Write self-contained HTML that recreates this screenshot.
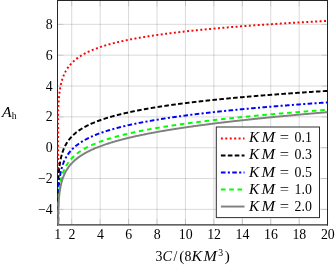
<!DOCTYPE html>
<html><head><meta charset="utf-8"><title>plot</title>
<style>html,body{margin:0;padding:0;background:#fff}svg{display:block}text{font-family:"Liberation Serif",serif;fill:#000}</style></head>
<body>
<svg width="335" height="266" viewBox="0 0 335 266">
<defs><filter id="nf" filterUnits="userSpaceOnUse" x="0" y="0" width="335" height="266"><feOffset dx="0" dy="0"/></filter></defs>
<rect width="335" height="266" fill="#fff"/>
<path d="M71.72 0.50 V225.00 M100.15 0.50 V225.00 M128.58 0.50 V225.00 M157.01 0.50 V225.00 M185.44 0.50 V225.00 M213.87 0.50 V225.00 M242.31 0.50 V225.00 M270.74 0.50 V225.00 M299.17 0.50 V225.00 M57.50 24.35 H327.60 M57.50 55.19 H327.60 M57.50 86.03 H327.60 M57.50 116.87 H327.60 M57.50 147.71 H327.60 M57.50 178.55 H327.60 M57.50 209.39 H327.60" stroke="#808080" stroke-width="0.3" fill="none"/>
<path d="M57.50 0.50 v5.90 M57.50 225.00 v-5.90 M71.72 0.50 v5.90 M71.72 225.00 v-5.90 M100.15 0.50 v5.90 M100.15 225.00 v-5.90 M128.58 0.50 v5.90 M128.58 225.00 v-5.90 M157.01 0.50 v5.90 M157.01 225.00 v-5.90 M185.44 0.50 v5.90 M185.44 225.00 v-5.90 M213.87 0.50 v5.90 M213.87 225.00 v-5.90 M242.31 0.50 v5.90 M242.31 225.00 v-5.90 M270.74 0.50 v5.90 M270.74 225.00 v-5.90 M299.17 0.50 v5.90 M299.17 225.00 v-5.90 M327.60 0.50 v5.90 M327.60 225.00 v-5.90 M57.50 24.35 h5.90 M327.60 24.35 h-5.90 M57.50 55.19 h5.90 M327.60 55.19 h-5.90 M57.50 86.03 h5.90 M327.60 86.03 h-5.90 M57.50 116.87 h5.90 M327.60 116.87 h-5.90 M57.50 147.71 h5.90 M327.60 147.71 h-5.90 M57.50 178.55 h5.90 M327.60 178.55 h-5.90 M57.50 209.39 h5.90 M327.60 209.39 h-5.90" stroke="#808080" stroke-width="0.3" fill="none"/>
<path d="M57.5 0 V225.6 M327.5 0 V225.6 M57 0.5 H328" stroke="#262626" stroke-width="1" fill="none"/>
<path d="M57 224.92 H328" stroke="#303030" stroke-width="1.35" fill="none"/>
<clipPath id="c"><rect x="57.20" y="0.50" width="270.40" height="224.50"/></clipPath>
<clipPath id="cr"><rect x="57.2" y="0.5" width="271" height="168.5"/></clipPath>
<g clip-path="url(#c)" fill="none" stroke-width="1.95" stroke-linejoin="round">
<path d="M57.50 764.51 L58.18 109.14 L58.85 98.51 L59.53 92.32 L60.21 87.94 L60.88 84.55 L61.56 81.80 L62.24 79.47 L62.92 77.46 L63.59 75.69 L64.27 74.11 L64.95 72.68 L65.62 71.39 L66.30 70.19 L66.98 69.09 L67.65 68.07 L68.33 67.11 L69.01 66.21 L69.68 65.37 L70.36 64.57 L71.04 63.81 L71.72 63.09 L72.39 62.41 L73.07 61.75 L73.75 61.13 L74.42 60.53 L75.10 59.95 L75.78 59.40 L76.45 58.87 L77.13 58.36 L77.81 57.86 L78.49 57.38 L79.16 56.92 L79.84 56.47 L80.52 56.04 L81.19 55.61 L81.87 55.20 L82.55 54.81 L83.22 54.42 L83.90 54.04 L84.58 53.67 L85.25 53.31 L85.93 52.97 L86.61 52.62 L87.29 52.29 L87.96 51.97 L88.64 51.65 L89.32 51.34 L89.99 51.03 L90.67 50.73 L91.35 50.44 L92.02 50.16 L92.70 49.88 L93.38 49.60 L94.05 49.33 L94.73 49.07 L95.41 48.81 L96.09 48.55 L96.76 48.30 L97.44 48.06 L98.12 47.81 L98.79 47.58 L99.47 47.34 L100.15 47.11 L100.82 46.89 L101.50 46.66 L102.18 46.44 L102.86 46.23 L103.53 46.01 L104.21 45.81 L104.89 45.60 L105.56 45.40 L106.24 45.19 L106.92 45.00 L107.59 44.80 L108.27 44.61 L108.95 44.42 L109.62 44.23 L110.30 44.05 L110.98 43.86 L111.66 43.68 L112.33 43.51 L113.01 43.33 L113.69 43.16 L114.36 42.99 L115.04 42.82 L115.72 42.65 L116.39 42.48 L117.07 42.32 L117.75 42.16 L118.42 42.00 L119.10 41.84 L119.78 41.69 L120.46 41.53 L121.13 41.38 L121.81 41.23 L122.49 41.08 L123.16 40.93 L123.84 40.78 L124.52 40.64 L125.19 40.49 L125.87 40.35 L126.55 40.21 L127.23 40.07 L127.90 39.93 L128.58 39.80 L129.26 39.66 L129.93 39.53 L130.61 39.40 L131.29 39.26 L131.96 39.13 L132.64 39.01 L133.32 38.88 L133.99 38.75 L134.67 38.63 L135.35 38.50 L136.03 38.38 L136.70 38.26 L137.38 38.13 L138.06 38.01 L138.73 37.90 L139.41 37.78 L140.09 37.66 L140.76 37.54 L141.44 37.43 L142.12 37.31 L142.79 37.20 L143.47 37.09 L144.15 36.98 L144.83 36.87 L145.50 36.76 L146.18 36.65 L146.86 36.54 L147.53 36.43 L148.21 36.32 L148.89 36.22 L149.56 36.11 L150.24 36.01 L150.92 35.91 L151.59 35.80 L152.27 35.70 L152.95 35.60 L153.63 35.50 L154.30 35.40 L154.98 35.30 L155.66 35.20 L156.33 35.11 L157.01 35.01 L157.69 34.91 L158.36 34.82 L159.04 34.72 L159.72 34.63 L160.40 34.53 L161.07 34.44 L161.75 34.35 L162.43 34.26 L163.10 34.17 L163.78 34.07 L164.46 33.98 L165.13 33.89 L165.81 33.81 L166.49 33.72 L167.16 33.63 L167.84 33.54 L168.52 33.46 L169.20 33.37 L169.87 33.28 L170.55 33.20 L171.23 33.11 L171.90 33.03 L172.58 32.95 L173.26 32.86 L173.93 32.78 L174.61 32.70 L175.29 32.62 L175.96 32.53 L176.64 32.45 L177.32 32.37 L178.00 32.29 L178.67 32.21 L179.35 32.13 L180.03 32.06 L180.70 31.98 L181.38 31.90 L182.06 31.82 L182.73 31.75 L183.41 31.67 L184.09 31.59 L184.77 31.52 L185.44 31.44 L186.12 31.37 L186.80 31.29 L187.47 31.22 L188.15 31.15 L188.83 31.07 L189.50 31.00 L190.18 30.93 L190.86 30.86 L191.53 30.78 L192.21 30.71 L192.89 30.64 L193.57 30.57 L194.24 30.50 L194.92 30.43 L195.60 30.36 L196.27 30.29 L196.95 30.22 L197.63 30.15 L198.30 30.09 L198.98 30.02 L199.66 29.95 L200.33 29.88 L201.01 29.82 L201.69 29.75 L202.37 29.68 L203.04 29.62 L203.72 29.55 L204.40 29.49 L205.07 29.42 L205.75 29.36 L206.43 29.29 L207.10 29.23 L207.78 29.16 L208.46 29.10 L209.14 29.04 L209.81 28.97 L210.49 28.91 L211.17 28.85 L211.84 28.79 L212.52 28.73 L213.20 28.66 L213.87 28.60 L214.55 28.54 L215.23 28.48 L215.90 28.42 L216.58 28.36 L217.26 28.30 L217.94 28.24 L218.61 28.18 L219.29 28.12 L219.97 28.06 L220.64 28.00 L221.32 27.94 L222.00 27.89 L222.67 27.83 L223.35 27.77 L224.03 27.71 L224.70 27.65 L225.38 27.60 L226.06 27.54 L226.74 27.48 L227.41 27.43 L228.09 27.37 L228.77 27.32 L229.44 27.26 L230.12 27.20 L230.80 27.15 L231.47 27.09 L232.15 27.04 L232.83 26.98 L233.51 26.93 L234.18 26.88 L234.86 26.82 L235.54 26.77 L236.21 26.71 L236.89 26.66 L237.57 26.61 L238.24 26.55 L238.92 26.50 L239.60 26.45 L240.27 26.40 L240.95 26.34 L241.63 26.29 L242.31 26.24 L242.98 26.19 L243.66 26.14 L244.34 26.09 L245.01 26.03 L245.69 25.98 L246.37 25.93 L247.04 25.88 L247.72 25.83 L248.40 25.78 L249.07 25.73 L249.75 25.68 L250.43 25.63 L251.11 25.58 L251.78 25.53 L252.46 25.48 L253.14 25.44 L253.81 25.39 L254.49 25.34 L255.17 25.29 L255.84 25.24 L256.52 25.19 L257.20 25.15 L257.87 25.10 L258.55 25.05 L259.23 25.00 L259.91 24.95 L260.58 24.91 L261.26 24.86 L261.94 24.81 L262.61 24.77 L263.29 24.72 L263.97 24.67 L264.64 24.63 L265.32 24.58 L266.00 24.54 L266.68 24.49 L267.35 24.44 L268.03 24.40 L268.71 24.35 L269.38 24.31 L270.06 24.26 L270.74 24.22 L271.41 24.17 L272.09 24.13 L272.77 24.08 L273.44 24.04 L274.12 24.00 L274.80 23.95 L275.48 23.91 L276.15 23.86 L276.83 23.82 L277.51 23.78 L278.18 23.73 L278.86 23.69 L279.54 23.65 L280.21 23.60 L280.89 23.56 L281.57 23.52 L282.24 23.48 L282.92 23.43 L283.60 23.39 L284.28 23.35 L284.95 23.31 L285.63 23.27 L286.31 23.22 L286.98 23.18 L287.66 23.14 L288.34 23.10 L289.01 23.06 L289.69 23.02 L290.37 22.98 L291.05 22.93 L291.72 22.89 L292.40 22.85 L293.08 22.81 L293.75 22.77 L294.43 22.73 L295.11 22.69 L295.78 22.65 L296.46 22.61 L297.14 22.57 L297.81 22.53 L298.49 22.49 L299.17 22.45 L299.85 22.41 L300.52 22.37 L301.20 22.33 L301.88 22.29 L302.55 22.26 L303.23 22.22 L303.91 22.18 L304.58 22.14 L305.26 22.10 L305.94 22.06 L306.61 22.02 L307.29 21.99 L307.97 21.95 L308.65 21.91 L309.32 21.87 L310.00 21.83 L310.68 21.80 L311.35 21.76 L312.03 21.72 L312.71 21.68 L313.38 21.65 L314.06 21.61 L314.74 21.57 L315.42 21.53 L316.09 21.50 L316.77 21.46 L317.45 21.42 L318.12 21.39 L318.80 21.35 L319.48 21.31 L320.15 21.28 L320.83 21.24 L321.51 21.20 L322.18 21.17 L322.86 21.13 L323.54 21.10 L324.22 21.06 L324.89 21.03 L325.57 20.99 L326.25 20.95 L326.92 20.92 L327.60 20.88" stroke="#ff0000" stroke-dasharray="1.95 2.48" stroke-dashoffset="2.46" clip-path="url(#cr)"/>
<path d="M57.50 764.51 L58.18 182.77 L58.85 172.13 L59.53 165.93 L60.21 161.54 L60.88 158.15 L61.56 155.39 L62.24 153.05 L62.92 151.04 L63.59 149.26 L64.27 147.68 L64.95 146.25 L65.62 144.94 L66.30 143.74 L66.98 142.64 L67.65 141.61 L68.33 140.64 L69.01 139.74 L69.68 138.89 L70.36 138.09 L71.04 137.32 L71.72 136.60 L72.39 135.91 L73.07 135.25 L73.75 134.62 L74.42 134.01 L75.10 133.43 L75.78 132.87 L76.45 132.33 L77.13 131.81 L77.81 131.30 L78.49 130.82 L79.16 130.35 L79.84 129.89 L80.52 129.45 L81.19 129.02 L81.87 128.60 L82.55 128.19 L83.22 127.79 L83.90 127.41 L84.58 127.03 L85.25 126.66 L85.93 126.30 L86.61 125.95 L87.29 125.61 L87.96 125.27 L88.64 124.94 L89.32 124.62 L89.99 124.31 L90.67 124.00 L91.35 123.70 L92.02 123.40 L92.70 123.11 L93.38 122.82 L94.05 122.54 L94.73 122.27 L95.41 122.00 L96.09 121.73 L96.76 121.47 L97.44 121.21 L98.12 120.96 L98.79 120.71 L99.47 120.46 L100.15 120.22 L100.82 119.98 L101.50 119.75 L102.18 119.51 L102.86 119.29 L103.53 119.06 L104.21 118.84 L104.89 118.62 L105.56 118.40 L106.24 118.19 L106.92 117.98 L107.59 117.77 L108.27 117.57 L108.95 117.37 L109.62 117.17 L110.30 116.97 L110.98 116.78 L111.66 116.58 L112.33 116.39 L113.01 116.20 L113.69 116.02 L114.36 115.83 L115.04 115.65 L115.72 115.47 L116.39 115.30 L117.07 115.12 L117.75 114.95 L118.42 114.77 L119.10 114.60 L119.78 114.43 L120.46 114.27 L121.13 114.10 L121.81 113.94 L122.49 113.78 L123.16 113.62 L123.84 113.46 L124.52 113.30 L125.19 113.14 L125.87 112.99 L126.55 112.84 L127.23 112.69 L127.90 112.54 L128.58 112.39 L129.26 112.24 L129.93 112.09 L130.61 111.95 L131.29 111.81 L131.96 111.66 L132.64 111.52 L133.32 111.38 L133.99 111.24 L134.67 111.11 L135.35 110.97 L136.03 110.83 L136.70 110.70 L137.38 110.57 L138.06 110.43 L138.73 110.30 L139.41 110.17 L140.09 110.04 L140.76 109.92 L141.44 109.79 L142.12 109.66 L142.79 109.54 L143.47 109.41 L144.15 109.29 L144.83 109.17 L145.50 109.05 L146.18 108.93 L146.86 108.81 L147.53 108.69 L148.21 108.57 L148.89 108.45 L149.56 108.34 L150.24 108.22 L150.92 108.11 L151.59 107.99 L152.27 107.88 L152.95 107.77 L153.63 107.66 L154.30 107.54 L154.98 107.43 L155.66 107.33 L156.33 107.22 L157.01 107.11 L157.69 107.00 L158.36 106.89 L159.04 106.79 L159.72 106.68 L160.40 106.58 L161.07 106.47 L161.75 106.37 L162.43 106.27 L163.10 106.17 L163.78 106.07 L164.46 105.96 L165.13 105.86 L165.81 105.76 L166.49 105.67 L167.16 105.57 L167.84 105.47 L168.52 105.37 L169.20 105.28 L169.87 105.18 L170.55 105.08 L171.23 104.99 L171.90 104.89 L172.58 104.80 L173.26 104.71 L173.93 104.61 L174.61 104.52 L175.29 104.43 L175.96 104.34 L176.64 104.25 L177.32 104.16 L178.00 104.07 L178.67 103.98 L179.35 103.89 L180.03 103.80 L180.70 103.71 L181.38 103.62 L182.06 103.54 L182.73 103.45 L183.41 103.36 L184.09 103.28 L184.77 103.19 L185.44 103.11 L186.12 103.02 L186.80 102.94 L187.47 102.85 L188.15 102.77 L188.83 102.69 L189.50 102.61 L190.18 102.52 L190.86 102.44 L191.53 102.36 L192.21 102.28 L192.89 102.20 L193.57 102.12 L194.24 102.04 L194.92 101.96 L195.60 101.88 L196.27 101.80 L196.95 101.72 L197.63 101.65 L198.30 101.57 L198.98 101.49 L199.66 101.42 L200.33 101.34 L201.01 101.26 L201.69 101.19 L202.37 101.11 L203.04 101.04 L203.72 100.96 L204.40 100.89 L205.07 100.81 L205.75 100.74 L206.43 100.67 L207.10 100.59 L207.78 100.52 L208.46 100.45 L209.14 100.37 L209.81 100.30 L210.49 100.23 L211.17 100.16 L211.84 100.09 L212.52 100.02 L213.20 99.95 L213.87 99.88 L214.55 99.81 L215.23 99.74 L215.90 99.67 L216.58 99.60 L217.26 99.53 L217.94 99.46 L218.61 99.39 L219.29 99.33 L219.97 99.26 L220.64 99.19 L221.32 99.12 L222.00 99.06 L222.67 98.99 L223.35 98.92 L224.03 98.86 L224.70 98.79 L225.38 98.73 L226.06 98.66 L226.74 98.60 L227.41 98.53 L228.09 98.47 L228.77 98.40 L229.44 98.34 L230.12 98.27 L230.80 98.21 L231.47 98.15 L232.15 98.08 L232.83 98.02 L233.51 97.96 L234.18 97.90 L234.86 97.83 L235.54 97.77 L236.21 97.71 L236.89 97.65 L237.57 97.59 L238.24 97.53 L238.92 97.47 L239.60 97.40 L240.27 97.34 L240.95 97.28 L241.63 97.22 L242.31 97.16 L242.98 97.10 L243.66 97.04 L244.34 96.99 L245.01 96.93 L245.69 96.87 L246.37 96.81 L247.04 96.75 L247.72 96.69 L248.40 96.63 L249.07 96.58 L249.75 96.52 L250.43 96.46 L251.11 96.40 L251.78 96.35 L252.46 96.29 L253.14 96.23 L253.81 96.18 L254.49 96.12 L255.17 96.06 L255.84 96.01 L256.52 95.95 L257.20 95.90 L257.87 95.84 L258.55 95.79 L259.23 95.73 L259.91 95.68 L260.58 95.62 L261.26 95.57 L261.94 95.51 L262.61 95.46 L263.29 95.40 L263.97 95.35 L264.64 95.30 L265.32 95.24 L266.00 95.19 L266.68 95.13 L267.35 95.08 L268.03 95.03 L268.71 94.98 L269.38 94.92 L270.06 94.87 L270.74 94.82 L271.41 94.77 L272.09 94.71 L272.77 94.66 L273.44 94.61 L274.12 94.56 L274.80 94.51 L275.48 94.46 L276.15 94.41 L276.83 94.35 L277.51 94.30 L278.18 94.25 L278.86 94.20 L279.54 94.15 L280.21 94.10 L280.89 94.05 L281.57 94.00 L282.24 93.95 L282.92 93.90 L283.60 93.85 L284.28 93.80 L284.95 93.75 L285.63 93.70 L286.31 93.66 L286.98 93.61 L287.66 93.56 L288.34 93.51 L289.01 93.46 L289.69 93.41 L290.37 93.36 L291.05 93.32 L291.72 93.27 L292.40 93.22 L293.08 93.17 L293.75 93.13 L294.43 93.08 L295.11 93.03 L295.78 92.98 L296.46 92.94 L297.14 92.89 L297.81 92.84 L298.49 92.80 L299.17 92.75 L299.85 92.70 L300.52 92.66 L301.20 92.61 L301.88 92.56 L302.55 92.52 L303.23 92.47 L303.91 92.43 L304.58 92.38 L305.26 92.34 L305.94 92.29 L306.61 92.25 L307.29 92.20 L307.97 92.16 L308.65 92.11 L309.32 92.07 L310.00 92.02 L310.68 91.98 L311.35 91.93 L312.03 91.89 L312.71 91.84 L313.38 91.80 L314.06 91.76 L314.74 91.71 L315.42 91.67 L316.09 91.62 L316.77 91.58 L317.45 91.54 L318.12 91.49 L318.80 91.45 L319.48 91.41 L320.15 91.36 L320.83 91.32 L321.51 91.28 L322.18 91.23 L322.86 91.19 L323.54 91.15 L324.22 91.11 L324.89 91.06 L325.57 91.02 L326.25 90.98 L326.92 90.94 L327.60 90.90" stroke="#000000" stroke-dasharray="4.60 2.32" stroke-dashoffset="3.56"/>
<path d="M57.50 764.51 L58.18 196.01 L58.85 185.37 L59.53 179.16 L60.21 174.77 L60.88 171.38 L61.56 168.61 L62.24 166.27 L62.92 164.25 L63.59 162.47 L64.27 160.88 L64.95 159.44 L65.62 158.14 L66.30 156.93 L66.98 155.82 L67.65 154.79 L68.33 153.82 L69.01 152.91 L69.68 152.06 L70.36 151.25 L71.04 150.48 L71.72 149.75 L72.39 149.06 L73.07 148.39 L73.75 147.76 L74.42 147.15 L75.10 146.56 L75.78 145.99 L76.45 145.45 L77.13 144.93 L77.81 144.42 L78.49 143.93 L79.16 143.45 L79.84 142.99 L80.52 142.54 L81.19 142.11 L81.87 141.68 L82.55 141.27 L83.22 140.87 L83.90 140.48 L84.58 140.10 L85.25 139.73 L85.93 139.36 L86.61 139.01 L87.29 138.66 L87.96 138.32 L88.64 137.99 L89.32 137.66 L89.99 137.34 L90.67 137.03 L91.35 136.72 L92.02 136.42 L92.70 136.13 L93.38 135.84 L94.05 135.55 L94.73 135.27 L95.41 134.99 L96.09 134.72 L96.76 134.46 L97.44 134.20 L98.12 133.94 L98.79 133.68 L99.47 133.43 L100.15 133.19 L100.82 132.94 L101.50 132.70 L102.18 132.47 L102.86 132.24 L103.53 132.01 L104.21 131.78 L104.89 131.56 L105.56 131.34 L106.24 131.12 L106.92 130.91 L107.59 130.69 L108.27 130.48 L108.95 130.28 L109.62 130.07 L110.30 129.87 L110.98 129.67 L111.66 129.48 L112.33 129.28 L113.01 129.09 L113.69 128.90 L114.36 128.71 L115.04 128.52 L115.72 128.34 L116.39 128.16 L117.07 127.98 L117.75 127.80 L118.42 127.62 L119.10 127.45 L119.78 127.27 L120.46 127.10 L121.13 126.93 L121.81 126.77 L122.49 126.60 L123.16 126.43 L123.84 126.27 L124.52 126.11 L125.19 125.95 L125.87 125.79 L126.55 125.63 L127.23 125.48 L127.90 125.32 L128.58 125.17 L129.26 125.02 L129.93 124.87 L130.61 124.72 L131.29 124.57 L131.96 124.42 L132.64 124.28 L133.32 124.13 L133.99 123.99 L134.67 123.85 L135.35 123.71 L136.03 123.57 L136.70 123.43 L137.38 123.29 L138.06 123.16 L138.73 123.02 L139.41 122.89 L140.09 122.75 L140.76 122.62 L141.44 122.49 L142.12 122.36 L142.79 122.23 L143.47 122.10 L144.15 121.97 L144.83 121.85 L145.50 121.72 L146.18 121.60 L146.86 121.47 L147.53 121.35 L148.21 121.23 L148.89 121.10 L149.56 120.98 L150.24 120.86 L150.92 120.74 L151.59 120.63 L152.27 120.51 L152.95 120.39 L153.63 120.28 L154.30 120.16 L154.98 120.05 L155.66 119.93 L156.33 119.82 L157.01 119.71 L157.69 119.59 L158.36 119.48 L159.04 119.37 L159.72 119.26 L160.40 119.15 L161.07 119.05 L161.75 118.94 L162.43 118.83 L163.10 118.73 L163.78 118.62 L164.46 118.51 L165.13 118.41 L165.81 118.31 L166.49 118.20 L167.16 118.10 L167.84 118.00 L168.52 117.90 L169.20 117.79 L169.87 117.69 L170.55 117.59 L171.23 117.49 L171.90 117.40 L172.58 117.30 L173.26 117.20 L173.93 117.10 L174.61 117.00 L175.29 116.91 L175.96 116.81 L176.64 116.72 L177.32 116.62 L178.00 116.53 L178.67 116.43 L179.35 116.34 L180.03 116.25 L180.70 116.16 L181.38 116.06 L182.06 115.97 L182.73 115.88 L183.41 115.79 L184.09 115.70 L184.77 115.61 L185.44 115.52 L186.12 115.43 L186.80 115.34 L187.47 115.25 L188.15 115.17 L188.83 115.08 L189.50 114.99 L190.18 114.91 L190.86 114.82 L191.53 114.73 L192.21 114.65 L192.89 114.56 L193.57 114.48 L194.24 114.40 L194.92 114.31 L195.60 114.23 L196.27 114.15 L196.95 114.06 L197.63 113.98 L198.30 113.90 L198.98 113.82 L199.66 113.74 L200.33 113.66 L201.01 113.57 L201.69 113.49 L202.37 113.41 L203.04 113.34 L203.72 113.26 L204.40 113.18 L205.07 113.10 L205.75 113.02 L206.43 112.94 L207.10 112.86 L207.78 112.79 L208.46 112.71 L209.14 112.63 L209.81 112.56 L210.49 112.48 L211.17 112.41 L211.84 112.33 L212.52 112.26 L213.20 112.18 L213.87 112.11 L214.55 112.03 L215.23 111.96 L215.90 111.88 L216.58 111.81 L217.26 111.74 L217.94 111.66 L218.61 111.59 L219.29 111.52 L219.97 111.45 L220.64 111.38 L221.32 111.30 L222.00 111.23 L222.67 111.16 L223.35 111.09 L224.03 111.02 L224.70 110.95 L225.38 110.88 L226.06 110.81 L226.74 110.74 L227.41 110.67 L228.09 110.60 L228.77 110.53 L229.44 110.47 L230.12 110.40 L230.80 110.33 L231.47 110.26 L232.15 110.19 L232.83 110.13 L233.51 110.06 L234.18 109.99 L234.86 109.93 L235.54 109.86 L236.21 109.79 L236.89 109.73 L237.57 109.66 L238.24 109.60 L238.92 109.53 L239.60 109.47 L240.27 109.40 L240.95 109.34 L241.63 109.27 L242.31 109.21 L242.98 109.14 L243.66 109.08 L244.34 109.02 L245.01 108.95 L245.69 108.89 L246.37 108.83 L247.04 108.76 L247.72 108.70 L248.40 108.64 L249.07 108.57 L249.75 108.51 L250.43 108.45 L251.11 108.39 L251.78 108.33 L252.46 108.27 L253.14 108.21 L253.81 108.14 L254.49 108.08 L255.17 108.02 L255.84 107.96 L256.52 107.90 L257.20 107.84 L257.87 107.78 L258.55 107.72 L259.23 107.66 L259.91 107.60 L260.58 107.54 L261.26 107.49 L261.94 107.43 L262.61 107.37 L263.29 107.31 L263.97 107.25 L264.64 107.19 L265.32 107.13 L266.00 107.08 L266.68 107.02 L267.35 106.96 L268.03 106.90 L268.71 106.85 L269.38 106.79 L270.06 106.73 L270.74 106.68 L271.41 106.62 L272.09 106.56 L272.77 106.51 L273.44 106.45 L274.12 106.40 L274.80 106.34 L275.48 106.28 L276.15 106.23 L276.83 106.17 L277.51 106.12 L278.18 106.06 L278.86 106.01 L279.54 105.95 L280.21 105.90 L280.89 105.84 L281.57 105.79 L282.24 105.73 L282.92 105.68 L283.60 105.63 L284.28 105.57 L284.95 105.52 L285.63 105.47 L286.31 105.41 L286.98 105.36 L287.66 105.31 L288.34 105.25 L289.01 105.20 L289.69 105.15 L290.37 105.09 L291.05 105.04 L291.72 104.99 L292.40 104.94 L293.08 104.89 L293.75 104.83 L294.43 104.78 L295.11 104.73 L295.78 104.68 L296.46 104.63 L297.14 104.58 L297.81 104.52 L298.49 104.47 L299.17 104.42 L299.85 104.37 L300.52 104.32 L301.20 104.27 L301.88 104.22 L302.55 104.17 L303.23 104.12 L303.91 104.07 L304.58 104.02 L305.26 103.97 L305.94 103.92 L306.61 103.87 L307.29 103.82 L307.97 103.77 L308.65 103.72 L309.32 103.67 L310.00 103.62 L310.68 103.57 L311.35 103.53 L312.03 103.48 L312.71 103.43 L313.38 103.38 L314.06 103.33 L314.74 103.28 L315.42 103.23 L316.09 103.19 L316.77 103.14 L317.45 103.09 L318.12 103.04 L318.80 102.99 L319.48 102.95 L320.15 102.90 L320.83 102.85 L321.51 102.81 L322.18 102.76 L322.86 102.71 L323.54 102.66 L324.22 102.62 L324.89 102.57 L325.57 102.52 L326.25 102.48 L326.92 102.43 L327.60 102.38" stroke="#0000ff" stroke-dasharray="4.60 2.32 2.10 2.32" stroke-dashoffset="0.85"/>
<path d="M57.50 764.51 L58.18 204.73 L58.85 194.08 L59.53 187.87 L60.21 183.48 L60.88 180.08 L61.56 177.31 L62.24 174.97 L62.92 172.94 L63.59 171.16 L64.27 169.57 L64.95 168.13 L65.62 166.82 L66.30 165.61 L66.98 164.50 L67.65 163.46 L68.33 162.49 L69.01 161.58 L69.68 160.72 L70.36 159.91 L71.04 159.13 L71.72 158.40 L72.39 157.70 L73.07 157.04 L73.75 156.40 L74.42 155.78 L75.10 155.19 L75.78 154.63 L76.45 154.08 L77.13 153.55 L77.81 153.04 L78.49 152.54 L79.16 152.07 L79.84 151.60 L80.52 151.15 L81.19 150.71 L81.87 150.29 L82.55 149.87 L83.22 149.47 L83.90 149.07 L84.58 148.69 L85.25 148.31 L85.93 147.94 L86.61 147.59 L87.29 147.24 L87.96 146.89 L88.64 146.56 L89.32 146.23 L89.99 145.90 L90.67 145.59 L91.35 145.28 L92.02 144.97 L92.70 144.67 L93.38 144.38 L94.05 144.09 L94.73 143.81 L95.41 143.53 L96.09 143.26 L96.76 142.99 L97.44 142.72 L98.12 142.46 L98.79 142.20 L99.47 141.95 L100.15 141.70 L100.82 141.45 L101.50 141.21 L102.18 140.97 L102.86 140.74 L103.53 140.50 L104.21 140.27 L104.89 140.05 L105.56 139.82 L106.24 139.60 L106.92 139.38 L107.59 139.17 L108.27 138.96 L108.95 138.75 L109.62 138.54 L110.30 138.33 L110.98 138.13 L111.66 137.93 L112.33 137.73 L113.01 137.54 L113.69 137.34 L114.36 137.15 L115.04 136.96 L115.72 136.78 L116.39 136.59 L117.07 136.41 L117.75 136.23 L118.42 136.05 L119.10 135.87 L119.78 135.69 L120.46 135.52 L121.13 135.34 L121.81 135.17 L122.49 135.00 L123.16 134.83 L123.84 134.67 L124.52 134.50 L125.19 134.34 L125.87 134.18 L126.55 134.02 L127.23 133.86 L127.90 133.70 L128.58 133.54 L129.26 133.39 L129.93 133.23 L130.61 133.08 L131.29 132.93 L131.96 132.78 L132.64 132.63 L133.32 132.48 L133.99 132.34 L134.67 132.19 L135.35 132.05 L136.03 131.91 L136.70 131.76 L137.38 131.62 L138.06 131.48 L138.73 131.34 L139.41 131.21 L140.09 131.07 L140.76 130.93 L141.44 130.80 L142.12 130.67 L142.79 130.53 L143.47 130.40 L144.15 130.27 L144.83 130.14 L145.50 130.01 L146.18 129.88 L146.86 129.76 L147.53 129.63 L148.21 129.50 L148.89 129.38 L149.56 129.25 L150.24 129.13 L150.92 129.01 L151.59 128.89 L152.27 128.77 L152.95 128.65 L153.63 128.53 L154.30 128.41 L154.98 128.29 L155.66 128.17 L156.33 128.06 L157.01 127.94 L157.69 127.83 L158.36 127.71 L159.04 127.60 L159.72 127.48 L160.40 127.37 L161.07 127.26 L161.75 127.15 L162.43 127.04 L163.10 126.93 L163.78 126.82 L164.46 126.71 L165.13 126.60 L165.81 126.50 L166.49 126.39 L167.16 126.28 L167.84 126.18 L168.52 126.07 L169.20 125.97 L169.87 125.87 L170.55 125.76 L171.23 125.66 L171.90 125.56 L172.58 125.46 L173.26 125.35 L173.93 125.25 L174.61 125.15 L175.29 125.05 L175.96 124.95 L176.64 124.86 L177.32 124.76 L178.00 124.66 L178.67 124.56 L179.35 124.47 L180.03 124.37 L180.70 124.27 L181.38 124.18 L182.06 124.08 L182.73 123.99 L183.41 123.90 L184.09 123.80 L184.77 123.71 L185.44 123.62 L186.12 123.52 L186.80 123.43 L187.47 123.34 L188.15 123.25 L188.83 123.16 L189.50 123.07 L190.18 122.98 L190.86 122.89 L191.53 122.80 L192.21 122.71 L192.89 122.62 L193.57 122.54 L194.24 122.45 L194.92 122.36 L195.60 122.27 L196.27 122.19 L196.95 122.10 L197.63 122.02 L198.30 121.93 L198.98 121.85 L199.66 121.76 L200.33 121.68 L201.01 121.59 L201.69 121.51 L202.37 121.43 L203.04 121.34 L203.72 121.26 L204.40 121.18 L205.07 121.10 L205.75 121.02 L206.43 120.94 L207.10 120.85 L207.78 120.77 L208.46 120.69 L209.14 120.61 L209.81 120.53 L210.49 120.45 L211.17 120.38 L211.84 120.30 L212.52 120.22 L213.20 120.14 L213.87 120.06 L214.55 119.98 L215.23 119.91 L215.90 119.83 L216.58 119.75 L217.26 119.68 L217.94 119.60 L218.61 119.53 L219.29 119.45 L219.97 119.37 L220.64 119.30 L221.32 119.22 L222.00 119.15 L222.67 119.08 L223.35 119.00 L224.03 118.93 L224.70 118.85 L225.38 118.78 L226.06 118.71 L226.74 118.63 L227.41 118.56 L228.09 118.49 L228.77 118.42 L229.44 118.35 L230.12 118.27 L230.80 118.20 L231.47 118.13 L232.15 118.06 L232.83 117.99 L233.51 117.92 L234.18 117.85 L234.86 117.78 L235.54 117.71 L236.21 117.64 L236.89 117.57 L237.57 117.50 L238.24 117.43 L238.92 117.36 L239.60 117.30 L240.27 117.23 L240.95 117.16 L241.63 117.09 L242.31 117.02 L242.98 116.96 L243.66 116.89 L244.34 116.82 L245.01 116.76 L245.69 116.69 L246.37 116.62 L247.04 116.56 L247.72 116.49 L248.40 116.43 L249.07 116.36 L249.75 116.29 L250.43 116.23 L251.11 116.16 L251.78 116.10 L252.46 116.03 L253.14 115.97 L253.81 115.91 L254.49 115.84 L255.17 115.78 L255.84 115.71 L256.52 115.65 L257.20 115.59 L257.87 115.52 L258.55 115.46 L259.23 115.40 L259.91 115.34 L260.58 115.27 L261.26 115.21 L261.94 115.15 L262.61 115.09 L263.29 115.02 L263.97 114.96 L264.64 114.90 L265.32 114.84 L266.00 114.78 L266.68 114.72 L267.35 114.66 L268.03 114.60 L268.71 114.54 L269.38 114.48 L270.06 114.42 L270.74 114.36 L271.41 114.30 L272.09 114.24 L272.77 114.18 L273.44 114.12 L274.12 114.06 L274.80 114.00 L275.48 113.94 L276.15 113.88 L276.83 113.82 L277.51 113.76 L278.18 113.71 L278.86 113.65 L279.54 113.59 L280.21 113.53 L280.89 113.47 L281.57 113.42 L282.24 113.36 L282.92 113.30 L283.60 113.24 L284.28 113.19 L284.95 113.13 L285.63 113.07 L286.31 113.02 L286.98 112.96 L287.66 112.90 L288.34 112.85 L289.01 112.79 L289.69 112.73 L290.37 112.68 L291.05 112.62 L291.72 112.57 L292.40 112.51 L293.08 112.46 L293.75 112.40 L294.43 112.35 L295.11 112.29 L295.78 112.24 L296.46 112.18 L297.14 112.13 L297.81 112.07 L298.49 112.02 L299.17 111.96 L299.85 111.91 L300.52 111.85 L301.20 111.80 L301.88 111.75 L302.55 111.69 L303.23 111.64 L303.91 111.59 L304.58 111.53 L305.26 111.48 L305.94 111.43 L306.61 111.37 L307.29 111.32 L307.97 111.27 L308.65 111.22 L309.32 111.16 L310.00 111.11 L310.68 111.06 L311.35 111.01 L312.03 110.95 L312.71 110.90 L313.38 110.85 L314.06 110.80 L314.74 110.75 L315.42 110.70 L316.09 110.64 L316.77 110.59 L317.45 110.54 L318.12 110.49 L318.80 110.44 L319.48 110.39 L320.15 110.34 L320.83 110.29 L321.51 110.24 L322.18 110.19 L322.86 110.14 L323.54 110.09 L324.22 110.03 L324.89 109.98 L325.57 109.93 L326.25 109.88 L326.92 109.84 L327.60 109.79" stroke="#00ff00" stroke-dasharray="4.60 3.70" stroke-dashoffset="6.31"/>
<path d="M57.50 764.51 L58.18 209.75 L58.85 199.10 L59.53 192.88 L60.21 188.48 L60.88 185.07 L61.56 182.29 L62.24 179.95 L62.92 177.92 L63.59 176.13 L64.27 174.53 L64.95 173.08 L65.62 171.76 L66.30 170.55 L66.98 169.43 L67.65 168.39 L68.33 167.41 L69.01 166.49 L69.68 165.63 L70.36 164.81 L71.04 164.03 L71.72 163.29 L72.39 162.58 L73.07 161.91 L73.75 161.26 L74.42 160.64 L75.10 160.05 L75.78 159.47 L76.45 158.92 L77.13 158.39 L77.81 157.87 L78.49 157.37 L79.16 156.88 L79.84 156.41 L80.52 155.95 L81.19 155.51 L81.87 155.07 L82.55 154.65 L83.22 154.24 L83.90 153.84 L84.58 153.45 L85.25 153.07 L85.93 152.69 L86.61 152.33 L87.29 151.97 L87.96 151.62 L88.64 151.28 L89.32 150.94 L89.99 150.61 L90.67 150.29 L91.35 149.97 L92.02 149.66 L92.70 149.36 L93.38 149.06 L94.05 148.76 L94.73 148.47 L95.41 148.19 L96.09 147.91 L96.76 147.63 L97.44 147.36 L98.12 147.09 L98.79 146.83 L99.47 146.57 L100.15 146.31 L100.82 146.06 L101.50 145.81 L102.18 145.56 L102.86 145.32 L103.53 145.08 L104.21 144.84 L104.89 144.61 L105.56 144.38 L106.24 144.15 L106.92 143.93 L107.59 143.71 L108.27 143.49 L108.95 143.27 L109.62 143.06 L110.30 142.85 L110.98 142.64 L111.66 142.43 L112.33 142.23 L113.01 142.02 L113.69 141.82 L114.36 141.62 L115.04 141.43 L115.72 141.23 L116.39 141.04 L117.07 140.85 L117.75 140.66 L118.42 140.48 L119.10 140.29 L119.78 140.11 L120.46 139.93 L121.13 139.75 L121.81 139.57 L122.49 139.39 L123.16 139.22 L123.84 139.05 L124.52 138.88 L125.19 138.71 L125.87 138.54 L126.55 138.37 L127.23 138.20 L127.90 138.04 L128.58 137.88 L129.26 137.71 L129.93 137.55 L130.61 137.40 L131.29 137.24 L131.96 137.08 L132.64 136.93 L133.32 136.77 L133.99 136.62 L134.67 136.47 L135.35 136.32 L136.03 136.17 L136.70 136.02 L137.38 135.87 L138.06 135.72 L138.73 135.58 L139.41 135.43 L140.09 135.29 L140.76 135.15 L141.44 135.01 L142.12 134.87 L142.79 134.73 L143.47 134.59 L144.15 134.45 L144.83 134.31 L145.50 134.18 L146.18 134.04 L146.86 133.91 L147.53 133.78 L148.21 133.64 L148.89 133.51 L149.56 133.38 L150.24 133.25 L150.92 133.12 L151.59 133.00 L152.27 132.87 L152.95 132.74 L153.63 132.62 L154.30 132.49 L154.98 132.37 L155.66 132.24 L156.33 132.12 L157.01 132.00 L157.69 131.87 L158.36 131.75 L159.04 131.63 L159.72 131.51 L160.40 131.40 L161.07 131.28 L161.75 131.16 L162.43 131.04 L163.10 130.93 L163.78 130.81 L164.46 130.69 L165.13 130.58 L165.81 130.47 L166.49 130.35 L167.16 130.24 L167.84 130.13 L168.52 130.02 L169.20 129.91 L169.87 129.80 L170.55 129.69 L171.23 129.58 L171.90 129.47 L172.58 129.36 L173.26 129.25 L173.93 129.14 L174.61 129.04 L175.29 128.93 L175.96 128.82 L176.64 128.72 L177.32 128.61 L178.00 128.51 L178.67 128.41 L179.35 128.30 L180.03 128.20 L180.70 128.10 L181.38 128.00 L182.06 127.89 L182.73 127.79 L183.41 127.69 L184.09 127.59 L184.77 127.49 L185.44 127.39 L186.12 127.29 L186.80 127.20 L187.47 127.10 L188.15 127.00 L188.83 126.90 L189.50 126.81 L190.18 126.71 L190.86 126.61 L191.53 126.52 L192.21 126.42 L192.89 126.33 L193.57 126.23 L194.24 126.14 L194.92 126.05 L195.60 125.95 L196.27 125.86 L196.95 125.77 L197.63 125.68 L198.30 125.58 L198.98 125.49 L199.66 125.40 L200.33 125.31 L201.01 125.22 L201.69 125.13 L202.37 125.04 L203.04 124.95 L203.72 124.86 L204.40 124.77 L205.07 124.68 L205.75 124.60 L206.43 124.51 L207.10 124.42 L207.78 124.33 L208.46 124.25 L209.14 124.16 L209.81 124.07 L210.49 123.99 L211.17 123.90 L211.84 123.82 L212.52 123.73 L213.20 123.65 L213.87 123.56 L214.55 123.48 L215.23 123.39 L215.90 123.31 L216.58 123.23 L217.26 123.14 L217.94 123.06 L218.61 122.98 L219.29 122.90 L219.97 122.82 L220.64 122.73 L221.32 122.65 L222.00 122.57 L222.67 122.49 L223.35 122.41 L224.03 122.33 L224.70 122.25 L225.38 122.17 L226.06 122.09 L226.74 122.01 L227.41 121.93 L228.09 121.85 L228.77 121.77 L229.44 121.69 L230.12 121.62 L230.80 121.54 L231.47 121.46 L232.15 121.38 L232.83 121.31 L233.51 121.23 L234.18 121.15 L234.86 121.08 L235.54 121.00 L236.21 120.92 L236.89 120.85 L237.57 120.77 L238.24 120.70 L238.92 120.62 L239.60 120.55 L240.27 120.47 L240.95 120.40 L241.63 120.32 L242.31 120.25 L242.98 120.17 L243.66 120.10 L244.34 120.03 L245.01 119.95 L245.69 119.88 L246.37 119.81 L247.04 119.73 L247.72 119.66 L248.40 119.59 L249.07 119.52 L249.75 119.44 L250.43 119.37 L251.11 119.30 L251.78 119.23 L252.46 119.16 L253.14 119.09 L253.81 119.02 L254.49 118.95 L255.17 118.88 L255.84 118.80 L256.52 118.73 L257.20 118.66 L257.87 118.59 L258.55 118.53 L259.23 118.46 L259.91 118.39 L260.58 118.32 L261.26 118.25 L261.94 118.18 L262.61 118.11 L263.29 118.04 L263.97 117.97 L264.64 117.91 L265.32 117.84 L266.00 117.77 L266.68 117.70 L267.35 117.64 L268.03 117.57 L268.71 117.50 L269.38 117.43 L270.06 117.37 L270.74 117.30 L271.41 117.23 L272.09 117.17 L272.77 117.10 L273.44 117.04 L274.12 116.97 L274.80 116.90 L275.48 116.84 L276.15 116.77 L276.83 116.71 L277.51 116.64 L278.18 116.58 L278.86 116.51 L279.54 116.45 L280.21 116.38 L280.89 116.32 L281.57 116.25 L282.24 116.19 L282.92 116.13 L283.60 116.06 L284.28 116.00 L284.95 115.94 L285.63 115.87 L286.31 115.81 L286.98 115.75 L287.66 115.68 L288.34 115.62 L289.01 115.56 L289.69 115.49 L290.37 115.43 L291.05 115.37 L291.72 115.31 L292.40 115.25 L293.08 115.18 L293.75 115.12 L294.43 115.06 L295.11 115.00 L295.78 114.94 L296.46 114.88 L297.14 114.81 L297.81 114.75 L298.49 114.69 L299.17 114.63 L299.85 114.57 L300.52 114.51 L301.20 114.45 L301.88 114.39 L302.55 114.33 L303.23 114.27 L303.91 114.21 L304.58 114.15 L305.26 114.09 L305.94 114.03 L306.61 113.97 L307.29 113.91 L307.97 113.85 L308.65 113.79 L309.32 113.73 L310.00 113.67 L310.68 113.61 L311.35 113.56 L312.03 113.50 L312.71 113.44 L313.38 113.38 L314.06 113.32 L314.74 113.26 L315.42 113.20 L316.09 113.15 L316.77 113.09 L317.45 113.03 L318.12 112.97 L318.80 112.92 L319.48 112.86 L320.15 112.80 L320.83 112.74 L321.51 112.69 L322.18 112.63 L322.86 112.57 L323.54 112.51 L324.22 112.46 L324.89 112.40 L325.57 112.34 L326.25 112.29 L326.92 112.23 L327.60 112.18" stroke="#808080"/>
</g>
<g filter="url(#nf)" fill="#242424">
<g font-size="13.84">
<text x="57.70" y="238.9" text-anchor="middle">1</text>
<text x="71.92" y="238.9" text-anchor="middle">2</text>
<text x="100.35" y="238.9" text-anchor="middle">4</text>
<text x="128.78" y="238.9" text-anchor="middle">6</text>
<text x="157.21" y="238.9" text-anchor="middle">8</text>
<text x="185.64" y="238.9" text-anchor="middle">10</text>
<text x="214.07" y="238.9" text-anchor="middle">12</text>
<text x="242.51" y="238.9" text-anchor="middle">14</text>
<text x="270.94" y="238.9" text-anchor="middle">16</text>
<text x="299.37" y="238.9" text-anchor="middle">18</text>
<text x="327.80" y="238.9" text-anchor="middle">20</text>
<text x="52.6" y="28.85" text-anchor="end">8</text>
<text x="52.6" y="59.69" text-anchor="end">6</text>
<text x="52.6" y="90.53" text-anchor="end">4</text>
<text x="52.6" y="121.37" text-anchor="end">2</text>
<text x="52.6" y="152.21" text-anchor="end">0</text>
<text x="52.6" y="183.05" text-anchor="end">−2</text>
<text x="52.6" y="213.89" text-anchor="end">−4</text>
</g>
<text x="2" y="117.2" font-size="13.84" font-style="italic" textLength="9.6" lengthAdjust="spacingAndGlyphs">A</text>
<text x="11.8" y="119.4" font-size="9.7">h</text>
<g font-size="13.84">
<text x="155.5" y="261.4">3</text>
<text x="162.6" y="261.4" font-style="italic" textLength="9.6" lengthAdjust="spacingAndGlyphs">C</text>
<text x="173.6" y="261.4">/</text>
<text x="179.3" y="261.3" font-size="15.2">(</text>
<text x="184.5" y="261.4">8</text>
<text x="191.6" y="261.4" font-style="italic" textLength="10.6" lengthAdjust="spacingAndGlyphs">K</text>
<text x="203.4" y="261.4" font-style="italic" textLength="13.4" lengthAdjust="spacingAndGlyphs">M</text>
<text x="218.3" y="256.3" font-size="9.7">3</text>
<text x="224.8" y="261.3" font-size="15.2">)</text>
</g>
</g>
<rect x="216.30" y="127.00" width="103.20" height="90.60" fill="#fff" stroke="#2e2e2e" stroke-width="1"/>
<g fill="none" stroke-width="1.95">
<path d="M220.9 138.45 H244.5" stroke="#ff0000" stroke-dasharray="1.95 2.48"/>
<path d="M220.9 155.45 H244.5" stroke="#000000" stroke-dasharray="4.60 2.32"/>
<path d="M220.9 172.50 H244.5" stroke="#0000ff" stroke-dasharray="4.60 2.32 2.10 2.32"/>
<path d="M220.9 189.50 H244.5" stroke="#00ff00" stroke-dasharray="4.60 3.70"/>
<path d="M220.9 206.55 H244.5" stroke="#808080"/>
</g>
<g font-size="13.84" filter="url(#nf)" fill="#242424">
<text x="249.1" y="142.45" font-style="italic" textLength="10.2" lengthAdjust="spacingAndGlyphs">K</text>
<text x="261.4" y="142.45" font-style="italic" textLength="13.6" lengthAdjust="spacingAndGlyphs">M</text>
<text x="279.8" y="142.45" textLength="9.3" lengthAdjust="spacingAndGlyphs">=</text>
<text x="294.6" y="142.45">0.1</text>
<text x="249.1" y="159.45" font-style="italic" textLength="10.2" lengthAdjust="spacingAndGlyphs">K</text>
<text x="261.4" y="159.45" font-style="italic" textLength="13.6" lengthAdjust="spacingAndGlyphs">M</text>
<text x="279.8" y="159.45" textLength="9.3" lengthAdjust="spacingAndGlyphs">=</text>
<text x="294.6" y="159.45">0.3</text>
<text x="249.1" y="176.50" font-style="italic" textLength="10.2" lengthAdjust="spacingAndGlyphs">K</text>
<text x="261.4" y="176.50" font-style="italic" textLength="13.6" lengthAdjust="spacingAndGlyphs">M</text>
<text x="279.8" y="176.50" textLength="9.3" lengthAdjust="spacingAndGlyphs">=</text>
<text x="294.6" y="176.50">0.5</text>
<text x="249.1" y="193.50" font-style="italic" textLength="10.2" lengthAdjust="spacingAndGlyphs">K</text>
<text x="261.4" y="193.50" font-style="italic" textLength="13.6" lengthAdjust="spacingAndGlyphs">M</text>
<text x="279.8" y="193.50" textLength="9.3" lengthAdjust="spacingAndGlyphs">=</text>
<text x="294.6" y="193.50">1.0</text>
<text x="249.1" y="210.55" font-style="italic" textLength="10.2" lengthAdjust="spacingAndGlyphs">K</text>
<text x="261.4" y="210.55" font-style="italic" textLength="13.6" lengthAdjust="spacingAndGlyphs">M</text>
<text x="279.8" y="210.55" textLength="9.3" lengthAdjust="spacingAndGlyphs">=</text>
<text x="294.6" y="210.55">2.0</text>
</g>
</svg></body></html>
